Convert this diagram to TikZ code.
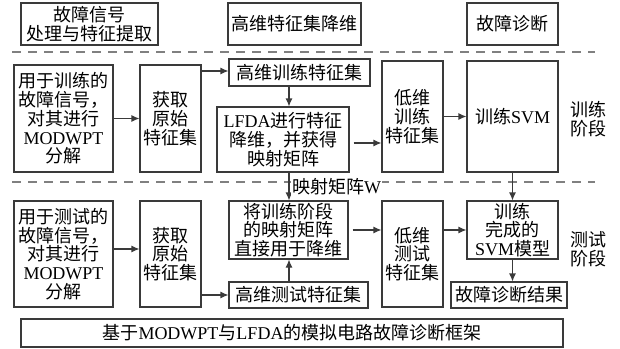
\documentclass[tikz,border=0pt]{standalone}
\usepackage{fontspec}
\setmainfont{Noto Sans CJK SC}
\newfontfamily\latf{Liberation Serif}
\newcommand{\lt}[1]{{\latf #1}}
\usetikzlibrary{arrows.meta,calc}
\definecolor{ln}{HTML}{3A3A3A}
\definecolor{dsh}{HTML}{808080}
\begin{document}
\begin{tikzpicture}[x=1pt,y=-1pt,
  box/.style={draw=ln,line width=1.1pt,align=center,inner sep=0pt,font=\fontsize{18}{18.7}\selectfont},
  lbl/.style={align=center,inner sep=0pt,font=\fontsize{18}{18.7}\selectfont},
  arr/.style={draw=ln,line width=1.1pt,-{Latex[length=8pt,width=7pt]}},
  sep/.style={draw=dsh,line width=1.2pt,dash pattern=on 9pt off 7pt}]
\useasboundingbox (0,0) rectangle (620,348);
% dashed separators
\draw[sep] (12,52) -- (595,52);
\draw[sep] (12,182) -- (595,182);
% headers
\node[box,minimum width=137pt,minimum height=42pt] (h1) at (89.5,24) {故障信号\\处理与特征提取};
\node[box,minimum width=133pt,minimum height=42pt] (h2) at (294.5,24) {高维特征集降维};
\node[box,minimum width=91pt,minimum height=42pt] (h3) at (512.5,24) {故障诊断};
% training row
\node[box,minimum width=99pt,minimum height=107pt] (trA) at (63.5,118.5) {用于训练的\\故障信号，\\对其进行\\\lt{MODWPT}\\分解};
\node[box,minimum width=61pt,minimum height=107pt] (trB) at (170.5,118.5) {获取\\原始\\特征集};
\node[box,minimum width=141pt,minimum height=27pt] (hiTr) at (299.5,72.5) {高维训练特征集};
\node[box,minimum width=132pt,minimum height=65pt] (lfda) at (283,139.5) {\lt{LFDA}进行特征\\降维，并获得\\映射矩阵};
\node[box,minimum width=61pt,minimum height=111pt] (loTr) at (412.5,116.5) {低维\\训练\\特征集};
\node[box,minimum width=91pt,minimum height=111pt] (svm) at (512.5,116.5) {训练\lt{SVM}};
\node[lbl] (stTr) at (588,119) {训练\\阶段};
% test row
\node[box,minimum width=99pt,minimum height=106pt] (teA) at (63.5,254) {用于测试的\\故障信号，\\对其进行\\\lt{MODWPT}\\分解};
\node[box,minimum width=61pt,minimum height=106pt] (teB) at (170.5,254) {获取\\原始\\特征集};
\node[box,minimum width=119pt,minimum height=58pt] (apply) at (288.5,230) {将训练阶段\\的映射矩阵\\直接用于降维};
\node[box,minimum width=139pt,minimum height=26pt] (hiTe) at (298.5,295) {高维测试特征集};
\node[box,minimum width=61pt,minimum height=106pt] (loTe) at (412.5,254) {低维\\测试\\特征集};
\node[box,minimum width=91pt,minimum height=58pt] (model) at (512.5,230) {训练\\完成的\\\lt{SVM}模型};
\node[box,minimum width=116pt,minimum height=26pt] (res) at (509,295) {故障诊断结果};
\node[lbl] (stTe) at (588,249) {测试\\阶段};
% bottom
\node[box,minimum width=542pt,minimum height=28pt] (bot) at (292,333) {基于\lt{MODWPT}与\lt{LFDA}的模拟电路故障诊断框架};
% helper coordinates
\coordinate (vx) at (289,0);
\coordinate (yA) at (0,143);
\coordinate (yB) at (0,249);
\coordinate (yC) at (0,71);
% training arrows
\draw[arr] (trA.east) -- (trB.west);
\draw[arr] (trB.east |- yC) -- (hiTr.west |- yC);
\draw[arr] (hiTr.south -| vx) -- (lfda.north -| vx);
\draw[arr,shorten <=4pt] (lfda.east |- yA) -- (loTr.west |- yA);
\draw[arr] (loTr.east |- svm.west) -- (svm.west);
\draw[arr] (svm.south) -- (model.north);
% cross-stage arrow with label
\draw[arr] (lfda.south -| vx) -- (apply.north -| vx);
\node[lbl,fill=white,anchor=west,inner xsep=1pt,inner ysep=1pt] (wlab) at (291,187) {映射矩阵\lt{W}};
% test arrows
\draw[arr] (teA.east |- yB) -- (teB.west |- yB);
\draw[arr] (teB.east |- hiTe.west) -- (hiTe.west);
\draw[arr] (hiTe.north -| vx) -- (apply.south -| vx);
\draw[arr,shorten <=4pt] (apply.east) -- (loTe.west |- apply.east);
\draw[arr] (loTe.east |- model.west) -- (model.west);
\draw[arr] (model.south) -- (res.north -| model.south);
\end{tikzpicture}
\end{document}
